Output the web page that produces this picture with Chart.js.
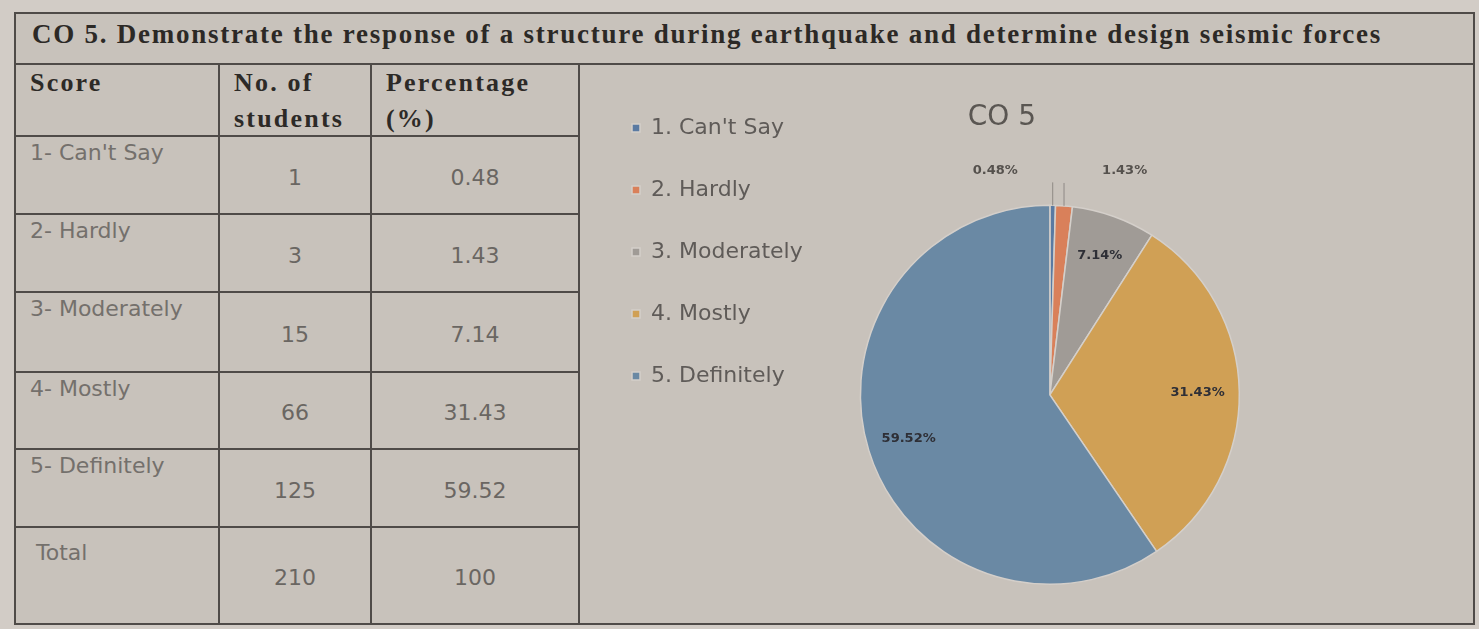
<!DOCTYPE html>
<html lang="en">
<head>
    <meta charset="UTF-8">
    <title>CO 5</title>
    <style>
        body {
            margin: 0;
            width: 1479px;
            height: 629px;
            overflow: hidden;
            position: relative;
            background: #d2ccc6;
            font-family: "DejaVu Sans", sans-serif;
        }
        .frame {
            position: absolute;
            left: 14px;
            top: 12px;
            width: 1457px;
            height: 609px;
            border: 2px solid #4f4b48;
            background: #c8c2bb;
        }
        .heading {
            position: absolute;
            left: 0;
            top: 0;
            width: 100%;
            height: 51px;
            box-sizing: border-box;
            border-bottom: 2px solid #4f4b48;
            padding-left: 16px;
            font-family: "Liberation Serif", serif;
            font-weight: bold;
            font-size: 27px;
            letter-spacing: 1.75px;
            line-height: 40px;
            color: #2c2926;
            white-space: nowrap;
        }
        .grid {
            position: absolute;
            left: 0;
            top: 51px;
            display: grid;
            grid-template-columns: 204px 152px 208px;
            grid-template-rows: 72px 78px 78px 80px 77px 78px 95px;
        }
        .cell {
            box-sizing: border-box;
            border-right: 2px solid #4f4b48;
            border-bottom: 2px solid #4f4b48;
        }
        .last { border-bottom: none; }
        .head {
            font-family: "Liberation Serif", serif;
            font-weight: bold;
            font-size: 26px;
            letter-spacing: 2.2px;
            line-height: 36px;
            color: #2d2a27;
            padding: 0 0 0 14px;
        }
        .label {
            font-size: 22px;
            color: #74706c;
            padding: 3px 0 0 14px;
        }
        .num {
            font-size: 22px;
            color: #6a6662;
            display: flex;
            align-items: center;
            justify-content: center;
            padding-top: 4px;
        }
        .chartbox {
            position: absolute;
            left: 564px;
            top: 51px;
            width: 893px;
            height: 558px;
        }
    </style>
    <script src="https://cdn.jsdelivr.net/npm/chart.js"></script>
</head>
<body>
    <div class="frame">
        <div class="heading">CO 5. Demonstrate the response of a structure during earthquake and determine design seismic forces</div>
        <div class="grid" id="grid"></div>
        <div class="chartbox"><canvas id="pieChart"></canvas></div>
    </div>

    <script>
        // Data
        const headers = ['Score', 'No. of<br>students', 'Percentage<br>(%)'];
        const scores = ["1- Can't Say", '2- Hardly', '3- Moderately', '4- Mostly', '5- Definitely'];
        const categories = ["1. Can't Say", '2. Hardly', '3. Moderately', '4. Mostly', '5. Definitely'];
        const students = [1, 3, 15, 66, 125];
        const percentages = [0.48, 1.43, 7.14, 31.43, 59.52];
        const totalStudents = 210;
        const totalPercent = 100;
        const sliceColors = ['#5a7aa2', '#d9805a', '#a09b96', '#d0a055', '#6a89a4'];

        // Build table
        const grid = document.getElementById('grid');
        function addCell(html, cls) {
            const d = document.createElement('div');
            d.className = 'cell ' + cls;
            d.innerHTML = html;
            grid.appendChild(d);
        }
        headers.forEach(h => addCell(h, 'head'));
        scores.forEach((s, i) => {
            addCell(s, 'label');
            addCell(students[i], 'num');
            addCell(percentages[i].toFixed(2), 'num');
        });
        addCell('<span style="padding-left:6px;line-height:44px">Total</span>', 'label last');
        addCell(totalStudents, 'num last');
        addCell(totalPercent, 'num last');

        // Percentage labels on the slices
        const sliceLabels = {
            id: 'sliceLabels',
            afterDatasetsDraw(chart) {
                const ctx = chart.ctx;
                const meta = chart.getDatasetMeta(0);
                let side = -1;
                ctx.save();
                ctx.font = 'bold 13px "DejaVu Sans"';
                ctx.textAlign = 'center';
                ctx.textBaseline = 'middle';
                meta.data.forEach((arc, i) => {
                    const p = arc.getProps(['x', 'y', 'startAngle', 'endAngle', 'outerRadius'], true);
                    const mid = (p.startAngle + p.endAngle) / 2;
                    const text = percentages[i].toFixed(2) + '%';
                    if (percentages[i] < 5) {
                        const ex = p.x + Math.cos(mid) * p.outerRadius;
                        const ey = p.y + Math.sin(mid) * p.outerRadius;
                        const lx = p.x + Math.cos(mid) * (p.outerRadius + 35) + side * 58;
                        const ly = p.y + Math.sin(mid) * (p.outerRadius + 35);
                        ctx.strokeStyle = '#8f8a85';
                        ctx.lineWidth = 1;
                        ctx.beginPath();
                        ctx.moveTo(ex, ey);
                        ctx.lineTo(ex, ly + 12);
                        ctx.stroke();
                        ctx.fillStyle = '#55514d';
                        ctx.fillText(text, lx, ly);
                        side = -side;
                    } else {
                        const r = p.outerRadius * 0.78;
                        ctx.fillStyle = '#2e2f36';
                        ctx.fillText(text, p.x + Math.cos(mid) * r, p.y + Math.sin(mid) * r);
                    }
                });
                ctx.restore();
            }
        };

        Chart.defaults.font.family = '"DejaVu Sans", sans-serif';

        const pieChart = new Chart(document.getElementById('pieChart'), {
            type: 'pie',
            data: {
                labels: categories,
                datasets: [{
                    data: students,
                    backgroundColor: sliceColors,
                    borderColor: '#d4cfca',
                    borderWidth: 1.5
                }]
            },
            options: {
                responsive: true,
                maintainAspectRatio: false,
                animation: false,
                layout: { padding: { top: 12, left: 12, right: 186, bottom: 38 } },
                plugins: {
                    title: {
                        display: true,
                        text: '              CO 5',
                        color: '#5a5652',
                        font: { size: 28, weight: 'normal' },
                        padding: { top: 24, bottom: 70 }
                    },
                    legend: {
                        position: 'left',
                        align: 'start',
                        labels: {
                            boxWidth: 8,
                            boxHeight: 8,
                            padding: 40,
                            color: '#5f5b58',
                            font: { size: 22 }
                        }
                    },
                    tooltip: { enabled: false }
                }
            },
            plugins: [sliceLabels]
        });
    </script>
</body>
</html>
